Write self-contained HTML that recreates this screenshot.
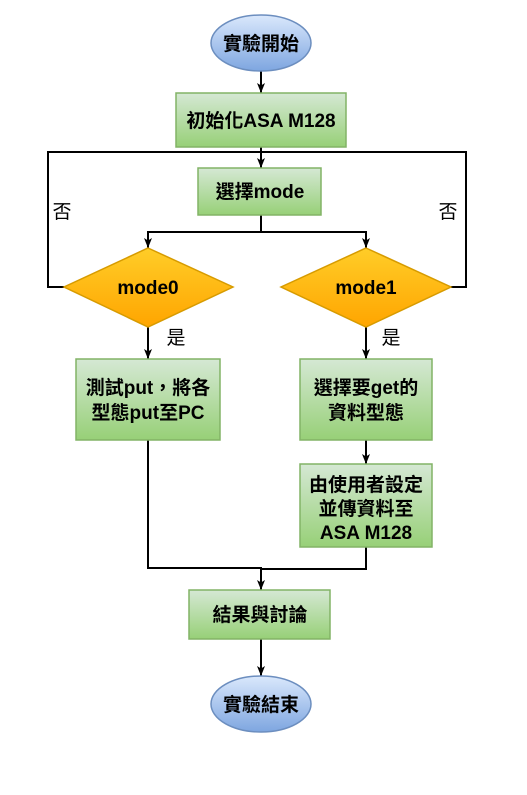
<!DOCTYPE html>
<html><head><meta charset="utf-8"><style>
html,body{margin:0;padding:0;background:#fff;}
svg{display:block;}
text{font-family:"Liberation Sans","Noto Sans CJK TC",sans-serif;font-size:19px;fill:#000;text-anchor:middle;}
.b{font-weight:bold;}
</style></head><body>
<svg width="527" height="795" viewBox="0 0 527 795" xmlns="http://www.w3.org/2000/svg">
<defs>
<linearGradient id="g" x1="0" y1="0" x2="0" y2="1"><stop offset="0" stop-color="#d5e8d4"/><stop offset="1" stop-color="#97d077"/></linearGradient>
<linearGradient id="o" x1="0" y1="0" x2="0" y2="1"><stop offset="0" stop-color="#ffcd28"/><stop offset="1" stop-color="#ffa500"/></linearGradient>
<linearGradient id="bl" x1="0" y1="0" x2="0" y2="1"><stop offset="0" stop-color="#dae8fc"/><stop offset="1" stop-color="#7ea6e0"/></linearGradient>
<marker id="a" markerWidth="12" markerHeight="12" refX="10" refY="5" orient="auto" markerUnits="userSpaceOnUse">
<path d="M0,1 L10,5 L0,9 L2.5,5 Z" fill="#000"/></marker>
</defs>
<g stroke="#000" stroke-width="2" fill="none">
<line x1="261" y1="71" x2="261" y2="93" marker-end="url(#a)"/>
<line x1="261" y1="147" x2="261" y2="168" marker-end="url(#a)"/>
<polyline points="64,287 48,287 48,152 466,152 466,287 451,287"/>
<polyline points="261,215 261,232 148,232 148,248" marker-end="url(#a)"/>
<polyline points="261,232 366,232 366,248" marker-end="url(#a)"/>
<line x1="148" y1="327" x2="148" y2="359" marker-end="url(#a)"/>
<line x1="366" y1="327" x2="366" y2="359" marker-end="url(#a)"/>
<line x1="366" y1="440" x2="366" y2="464" marker-end="url(#a)"/>
<polyline points="148,440 148,568 261,568 261,590" marker-end="url(#a)"/>
<polyline points="366,547 366,569 261,569"/>
<line x1="261" y1="639" x2="261" y2="676" marker-end="url(#a)"/>
</g>
<ellipse cx="261" cy="43" rx="50" ry="28" fill="url(#bl)" stroke="#6c8ebf" stroke-width="1.5"/>
<text class="b" x="261" y="50">實驗開始</text>
<rect x="176" y="93" width="170" height="54" fill="url(#g)" stroke="#82b366" stroke-width="1.5"/>
<text class="b" x="261" y="127">初始化ASA M128</text>
<rect x="198" y="168" width="123" height="47" fill="url(#g)" stroke="#82b366" stroke-width="1.5"/>
<text class="b" x="260" y="198">選擇mode</text>
<polygon points="148,248 233,287 148,327 64,287" fill="url(#o)" stroke="#d79b00" stroke-width="1.5"/>
<text class="b" x="148" y="294">mode0</text>
<polygon points="366,248 451,287 366,327 281,287" fill="url(#o)" stroke="#d79b00" stroke-width="1.5"/>
<text class="b" x="366" y="294">mode1</text>
<text x="62" y="218">否</text>
<text x="448" y="218">否</text>
<text x="176" y="344">是</text>
<text x="391" y="344">是</text>
<rect x="76" y="359" width="144" height="81" fill="url(#g)" stroke="#82b366" stroke-width="1.5"/>
<text class="b" x="148" y="394">測試put，將各</text>
<text class="b" x="148" y="419">型態put至PC</text>
<rect x="300" y="359" width="132" height="81" fill="url(#g)" stroke="#82b366" stroke-width="1.5"/>
<text class="b" x="366" y="394">選擇要get的</text>
<text class="b" x="366" y="419">資料型態</text>
<rect x="300" y="464" width="132" height="83" fill="url(#g)" stroke="#82b366" stroke-width="1.5"/>
<text class="b" x="366" y="491">由使用者設定</text>
<text class="b" x="366" y="515">並傳資料至</text>
<text class="b" x="366" y="539">ASA M128</text>
<rect x="189" y="590" width="141" height="49" fill="url(#g)" stroke="#82b366" stroke-width="1.5"/>
<text class="b" x="260" y="621">結果與討論</text>
<ellipse cx="261" cy="704" rx="50" ry="28" fill="url(#bl)" stroke="#6c8ebf" stroke-width="1.5"/>
<text class="b" x="261" y="711">實驗結束</text>
</svg>
</body></html>
